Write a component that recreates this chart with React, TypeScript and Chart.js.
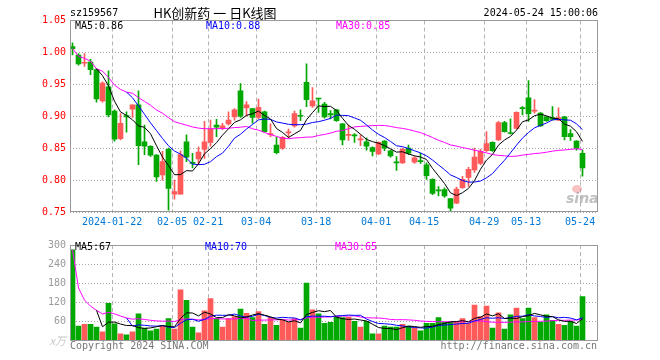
import React, { useEffect, useRef } from 'react';
import { Chart, registerables } from 'chart.js';

Chart.register(...registerables);

// ---------- data ----------
const dateTicks = ['2024-01-22', '02-05', '02-21', '03-04', '03-18', '04-01', '04-15', '04-29', '05-13', '05-24'];
const dateTickIndex = [7, 17, 23, 31, 41, 51, 59, 69, 76, 85];

const openP = [
  1.009, 0.996, 0.983, 0.985, 0.973, 0.924, 0.946, 0.908, 0.865, 0.901,
  0.911, 0.918, 0.860, 0.853, 0.839, 0.808, 0.848, 0.778, 0.778, 0.860,
  0.828, 0.833, 0.848, 0.859, 0.886, 0.881, 0.888, 0.899, 0.940, 0.913,
  0.912, 0.898, 0.907, 0.871, 0.855, 0.850, 0.874, 0.885, 0.901, 0.953,
  0.916, 0.928, 0.919, 0.904, 0.910, 0.888, 0.870, 0.871, 0.863, 0.860,
  0.851, 0.841, 0.861, 0.846, 0.828, 0.827, 0.850, 0.828, 0.830, 0.824,
  0.801, 0.784, 0.785, 0.771, 0.764, 0.788, 0.804, 0.816, 0.826, 0.846,
  0.859, 0.863, 0.890, 0.874, 0.881, 0.913, 0.929, 0.908, 0.905, 0.899,
  0.898, 0.894, 0.899, 0.873, 0.861, 0.842,
];
const highP = [
  1.015, 0.998, 0.998, 0.989, 0.975, 0.954, 0.971, 0.910, 0.904, 0.907,
  0.918, 0.940, 0.886, 0.854, 0.840, 0.845, 0.850, 0.800, 0.846, 0.871,
  0.842, 0.852, 0.892, 0.894, 0.895, 0.889, 0.907, 0.912, 0.951, 0.923,
  0.912, 0.927, 0.908, 0.888, 0.867, 0.868, 0.880, 0.908, 0.910, 0.982,
  0.945, 0.928, 0.922, 0.909, 0.911, 0.889, 0.886, 0.873, 0.871, 0.866,
  0.852, 0.860, 0.862, 0.847, 0.837, 0.850, 0.855, 0.837, 0.842, 0.827,
  0.802, 0.790, 0.788, 0.771, 0.789, 0.806, 0.820, 0.850, 0.848, 0.876,
  0.860, 0.892, 0.892, 0.896, 0.907, 0.915, 0.956, 0.926, 0.906, 0.900,
  0.915, 0.913, 0.900, 0.879, 0.862, 0.847,
];
const lowP = [
  0.996, 0.980, 0.978, 0.965, 0.922, 0.922, 0.899, 0.861, 0.863, 0.875,
  0.898, 0.824, 0.840, 0.837, 0.798, 0.800, 0.753, 0.770, 0.778, 0.829,
  0.819, 0.824, 0.834, 0.853, 0.868, 0.879, 0.886, 0.894, 0.898, 0.900,
  0.889, 0.896, 0.875, 0.868, 0.841, 0.848, 0.866, 0.883, 0.893, 0.915,
  0.914, 0.906, 0.897, 0.896, 0.892, 0.855, 0.862, 0.859, 0.854, 0.847,
  0.838, 0.840, 0.846, 0.836, 0.815, 0.826, 0.840, 0.826, 0.826, 0.801,
  0.777, 0.775, 0.773, 0.750, 0.763, 0.787, 0.790, 0.812, 0.824, 0.845,
  0.845, 0.862, 0.875, 0.872, 0.880, 0.902, 0.892, 0.905, 0.884, 0.892,
  0.894, 0.893, 0.863, 0.862, 0.847, 0.806,
];
const closeP = [
  1.006, 0.982, 0.984, 0.973, 0.927, 0.952, 0.902, 0.864, 0.889, 0.899,
  0.918, 0.854, 0.853, 0.839, 0.805, 0.829, 0.787, 0.782, 0.840, 0.836,
  0.826, 0.844, 0.860, 0.880, 0.883, 0.885, 0.894, 0.910, 0.900, 0.918,
  0.898, 0.914, 0.876, 0.873, 0.843, 0.867, 0.875, 0.904, 0.900, 0.926,
  0.924, 0.927, 0.899, 0.902, 0.893, 0.863, 0.871, 0.869, 0.863, 0.853,
  0.845, 0.859, 0.850, 0.838, 0.827, 0.848, 0.842, 0.835, 0.829, 0.807,
  0.779, 0.783, 0.775, 0.756, 0.786, 0.801, 0.817, 0.836, 0.845, 0.857,
  0.846, 0.890, 0.876, 0.873, 0.906, 0.912, 0.904, 0.909, 0.885, 0.893,
  0.895, 0.898, 0.868, 0.868, 0.850, 0.819,
];
const volume = [
  285, 45, 51, 51, 42, 27, 117, 52, 21, 18,
  27, 84, 39, 30, 36, 45, 69, 36, 159, 126,
  42, 24, 93, 132, 69, 42, 69, 75, 99, 85,
  72, 91, 51, 73, 48, 63, 57, 69, 39, 180,
  96, 84, 54, 57, 75, 72, 73, 60, 42, 60,
  21, 21, 45, 42, 42, 51, 45, 39, 30, 54,
  54, 72, 57, 57, 57, 69, 54, 111, 75, 108,
  39, 87, 36, 81, 102, 69, 102, 72, 57, 81,
  63, 51, 48, 60, 45, 138,
];

const priceTicks = [0.75, 0.8, 0.85, 0.9, 0.95, 1.0, 1.05];
const priceTickLabels = ['0.75', '0.80', '0.85', '0.90', '0.95', '1.00', '1.05'];
const volumeTicks = [0, 60, 120, 180, 240, 300];
const volumeTickLabels = ['x万', '60', '120', '180', '240', '300'];
const priceMALabels = ['MA5:0.86', 'MA10:0.88', 'MA30:0.85'];
const volumeMALabels = ['MA5:67', 'MA10:70', 'MA30:65'];
const headerCode = 'sz159567';
const headerTitle = 'HK创新药 一 日K线图';
const headerTime = '2024-05-24 15:00:06';
const footerLeft = 'Copyright 2024 SINA.COM';
const footerRight = 'http://finance.sina.com.cn';

// ---------- style ----------
const MONO = "'DejaVu Sans Mono', monospace";
const RED = '#ff5a5a';
const GREEN = '#00a800';
const MA_COLORS = ['#000000', '#0000ff', '#ff00ff'];
const X_MIN = -0.4167;
const X_MAX = 87.5833;

function movingAvg(arr: number[], n: number, cumulative: boolean): (number | null)[] {
  return arr.map((_, i) => {
    if (i < n - 1 && !cumulative) return null;
    const start = Math.max(0, i - n + 1);
    let s = 0;
    for (let k = start; k <= i; k++) s += arr[k];
    return s / (i - start + 1);
  });
}

const upColors = openP.map((o, i) => (closeP[i] >= o ? RED : GREEN));

function xAxis(height: number, showLabels: boolean) {
  return {
    type: 'linear',
    min: X_MIN,
    max: X_MAX,
    bounds: 'data',
    offset: false,
    afterBuildTicks: (s: any) => {
      s.ticks = dateTickIndex.map((i) => ({ value: i - 0.4 }));
    },
    afterFit: (s: any) => {
      s.height = height;
    },
    ticks: {
      display: showLabels,
      autoSkip: false,
      maxRotation: 0,
      padding: 4,
      color: '#0078d4',
      font: { family: MONO, size: 10 },
      callback: (_v: any, i: number) => dateTicks[i],
    },
    grid: { color: '#b4b4b4', lineWidth: 1, drawTicks: false, offset: false },
    border: { display: false, dash: [4, 3] },
  };
}

function lineDs(values: (number | null)[], color: string) {
  return {
    type: 'line',
    data: values.map((v, i) => ({ x: i, y: v })),
    borderColor: color,
    borderWidth: 1,
    pointRadius: 0,
    tension: 0,
    spanGaps: false,
    order: 0,
  };
}

function borderRect(ctx: CanvasRenderingContext2D, a: any) {
  const l = Math.round(a.left) + 0.5;
  const r = Math.round(a.right) - 0.5;
  const t = Math.floor(a.top) + 0.5;
  const b = Math.ceil(a.bottom) - 0.5;
  ctx.save();
  ctx.strokeStyle = '#999';
  ctx.lineWidth = 1;
  ctx.setLineDash([]);
  ctx.strokeRect(l, t, r - l, b - t);
  ctx.restore();
}

function text(ctx: CanvasRenderingContext2D, s: string, x: number, y: number, color: string, font: string, align: CanvasTextAlign = 'left') {
  ctx.save();
  ctx.fillStyle = color;
  ctx.font = font;
  ctx.textAlign = align;
  ctx.textBaseline = 'middle';
  ctx.fillText(s, x, y);
  ctx.restore();
}

export default function App() {
  const priceRef = useRef<HTMLCanvasElement>(null);
  const volRef = useRef<HTMLCanvasElement>(null);

  useEffect(() => {
    const pMA5 = movingAvg(closeP, 5, false);
    const pMA10 = movingAvg(closeP, 10, false);
    const pMA30 = movingAvg(closeP, 30, true);
    const vMA5 = movingAvg(volume, 5, false);
    const vMA10 = movingAvg(volume, 10, false);
    const vMA30 = movingAvg(volume, 30, true);

    const pricePlugin = {
      id: 'priceDecor',
      afterDraw(chart: any) {
        const ctx = chart.ctx as CanvasRenderingContext2D;
        const a = chart.chartArea;
        borderRect(ctx, a);
        const f10 = `10px ${MONO}`;
        text(ctx, headerCode, 70, 13, '#000', f10, 'left');
        text(ctx, headerTitle, 215, 13, '#000', "13px 'Noto Sans CJK SC', sans-serif", 'center');
        text(ctx, headerTime, 598, 13, '#000', f10, 'right');
        text(ctx, priceMALabels[0], 75, 26, MA_COLORS[0], f10);
        text(ctx, priceMALabels[1], 206, 26, MA_COLORS[1], f10);
        text(ctx, priceMALabels[2], 336, 26, MA_COLORS[2], f10);
        // sina watermark
        ctx.save();
        ctx.fillStyle = 'rgba(240,120,120,0.45)';
        ctx.beginPath();
        ctx.ellipse(577, 189, 5, 4, 0, 0, Math.PI * 2);
        ctx.fill();
        ctx.restore();
        text(ctx, 'sina', 566, 199, 'rgba(150,150,150,0.6)', "italic bold 14px 'DejaVu Sans', sans-serif", 'left');
      },
    };

    const volPlugin = {
      id: 'volDecor',
      afterDraw(chart: any) {
        const ctx = chart.ctx as CanvasRenderingContext2D;
        const a = chart.chartArea;
        borderRect(ctx, a);
        const f10 = `10px ${MONO}`;
        text(ctx, volumeMALabels[0], 75, 12, MA_COLORS[0], f10);
        text(ctx, volumeMALabels[1], 205, 12, MA_COLORS[1], f10);
        text(ctx, volumeMALabels[2], 335, 12, MA_COLORS[2], f10);
        text(ctx, footerLeft, 70, 111, '#777', f10, 'left');
        text(ctx, footerRight, 597, 111, '#777', f10, 'right');
      },
    };

    const priceChart = new Chart(priceRef.current as HTMLCanvasElement, {
      type: 'bar',
      data: {
        datasets: [
          lineDs(pMA5, MA_COLORS[0]),
          lineDs(pMA10, MA_COLORS[1]),
          lineDs(pMA30, MA_COLORS[2]),
          {
            type: 'bar',
            data: openP.map((o, i) => ({ x: i, y: [Math.min(o, closeP[i]), Math.max(o, closeP[i])] })),
            backgroundColor: upColors,
            borderWidth: 0,
            barThickness: 5,
            minBarLength: 1,
            grouped: false,
            order: 1,
          },
          {
            type: 'bar',
            data: openP.map((_, i) => ({ x: i, y: [lowP[i], highP[i]] })),
            backgroundColor: upColors,
            borderWidth: 0,
            barThickness: 1,
            minBarLength: 1,
            grouped: false,
            order: 2,
          },
        ] as any,
      },
      options: {
        animation: false,
        responsive: false,
        devicePixelRatio: 1,
        events: [],
        layout: { padding: { left: 0, right: 62, top: 20.5, bottom: 0 } },
        plugins: { legend: { display: false }, tooltip: { enabled: false }, title: { display: false } },
        scales: {
          x: xAxis(23, true) as any,
          y: {
            type: 'linear',
            min: 0.75,
            max: 1.05,
            position: 'left',
            afterBuildTicks: (s: any) => {
              s.ticks = priceTicks.map((v) => ({ value: v }));
            },
            afterFit: (s: any) => {
              s.width = 70;
            },
            ticks: {
              padding: 4,
              color: '#ff0000',
              font: { family: MONO, size: 10 },
              callback: (_v: any, i: number) => priceTickLabels[i],
            },
            grid: { color: '#a8a8a8', drawTicks: false },
            border: { display: false, dash: [1, 2] },
          } as any,
        },
      },
      plugins: [pricePlugin],
    } as any);

    const volChart = new Chart(volRef.current as HTMLCanvasElement, {
      type: 'bar',
      data: {
        datasets: [
          lineDs(vMA5, MA_COLORS[0]),
          lineDs(vMA10, MA_COLORS[1]),
          lineDs(vMA30, MA_COLORS[2]),
          {
            type: 'bar',
            data: volume.map((v, i) => ({ x: i, y: v })),
            backgroundColor: upColors,
            borderWidth: 0,
            barThickness: 5,
            grouped: false,
            order: 1,
          },
        ] as any,
      },
      options: {
        animation: false,
        responsive: false,
        devicePixelRatio: 1,
        events: [],
        layout: { padding: { left: 0, right: 62, top: 5, bottom: 0 } },
        plugins: { legend: { display: false }, tooltip: { enabled: false } },
        scales: {
          x: xAxis(19.5, false) as any,
          y: {
            type: 'linear',
            min: 0,
            max: 300,
            position: 'left',
            afterBuildTicks: (s: any) => {
              s.ticks = volumeTicks.map((v) => ({ value: v }));
            },
            afterFit: (s: any) => {
              s.width = 70;
            },
            ticks: {
              padding: 4,
              color: (c: any) => (c.index === 0 ? '#c8c8c8' : '#999999'),
              font: (c: any) =>
                c.index === 0
                  ? { family: "'Noto Sans CJK SC', sans-serif", size: 11, style: 'italic' }
                  : { family: MONO, size: 10 },
              callback: (_v: any, i: number) => volumeTickLabels[i],
            },
            grid: { color: (c: any) => (c.index === 0 ? 'rgba(0,0,0,0)' : '#a8a8a8'), drawTicks: false },
            border: { display: false, dash: [1, 2] },
          } as any,
        },
      },
      plugins: [volPlugin],
    } as any);

    return () => {
      priceChart.destroy();
      volChart.destroy();
    };
  }, []);

  return (
    <div style={{ position: 'absolute', left: 0, top: 0, width: 660, height: 360, background: '#fff' }}>
      <canvas ref={priceRef} width={660} height={235} style={{ position: 'absolute', left: 0, top: 0 }} />
      <canvas ref={volRef} width={660} height={125} style={{ position: 'absolute', left: 0, top: 235 }} />
    </div>
  );
}
